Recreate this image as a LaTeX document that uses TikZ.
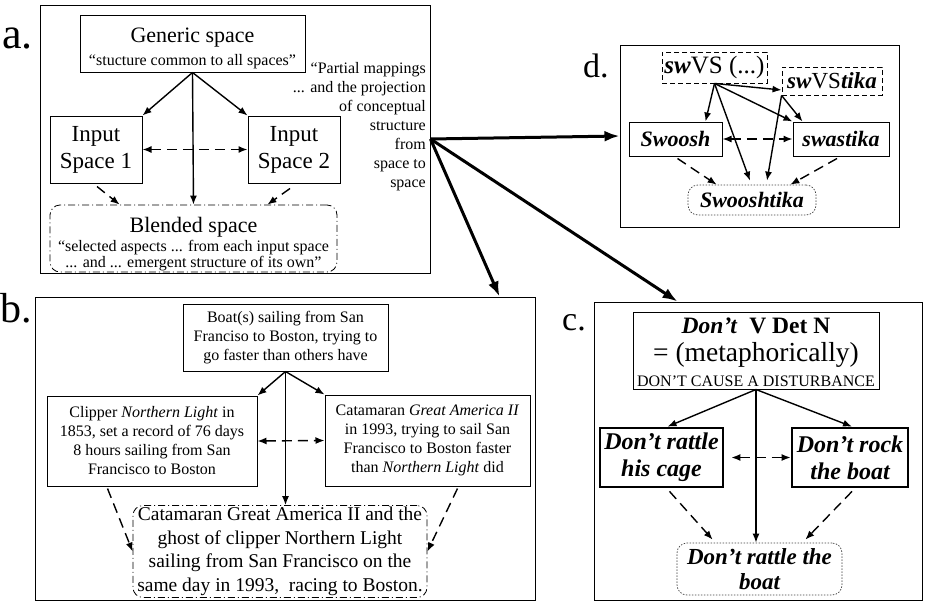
\documentclass[tikz,border=0pt]{standalone}
\usepackage{fontspec}
\setmainfont{Liberation Serif}
\usetikzlibrary{arrows.meta,calc}
\newcommand\fsz[2]{\fontsize{#1}{#2}\selectfont}
\begin{document}
\begin{tikzpicture}[x=1pt,y=-1pt,
  panel/.style={draw, line width=1pt, inner sep=0pt},
  lbl/.style={anchor=base west, inner sep=0pt},
  txt/.style={anchor=base, inner sep=0pt, font=\fsz{#1}{#1}},
  box/.style={draw, line width=1pt, inner sep=0pt, align=center},
  thickbox/.style={box, line width=2.8pt},
  blendbox/.style={box, line width=0.8pt, rounded corners=10pt,
    dash pattern=on 7pt off 3pt on 1pt off 3pt},
  dbox/.style={box, line width=0.9pt, dash pattern=on 5pt off 3pt},
  dotbox/.style={box, line width=0.7pt, draw=black!75, rounded corners=10pt,
    dash pattern=on 1.5pt off 1.5pt},
  bi/.style={font=\fsz{#1}{#1}\bfseries\itshape},
  arr/.style={-{Latex[length=9pt,width=7pt]}, line width=1.4pt},
  dsh/.style={arr, dash pattern=on 10pt off 6pt},
  dbl/.style={{Latex[length=9pt,width=7pt]}-{Latex[length=9pt,width=7pt]},
    line width=1.4pt, dash pattern=on 10pt off 6pt},
  big/.style={-{Latex[length=15pt,width=11pt]}, line width=3pt},
]
\useasboundingbox (0,0) rectangle (926,605);

% ---------- a. conceptual integration network ----------
\node[panel, minimum width=390pt, minimum height=268pt] (pa) at (235,139) {};
\node[lbl, font=\fsz{44}{44}] (la) at (2,48) {a.};
\node[box, minimum width=225pt, minimum height=57pt] (gen) at (192.5,43.5) {};
\node[txt=22] (genA) at (192.5,42) {Generic space};
\node[txt=16] (genB) at (192.5,65) {“stucture common to all spaces”};
\node[box, minimum width=92pt, minimum height=67pt, font=\fsz{23}{27}] (in1) at (96,149.5) {Input\\Space 1};
\node[box, minimum width=92pt, minimum height=67pt, font=\fsz{23}{27}] (in2) at (294,149.5) {Input\\Space 2};
\node[blendbox, minimum width=287pt, minimum height=67pt] (blend) at (193.5,238.5) {};
\node[txt=22] (blendA) at (193.5,232) {Blended space};
\node[txt=16] (blendB) at (193.5,251) {“selected aspects ... from each input space};
\node[txt=16] (blendC) at (193.5,267) {... and ... emergent structure of its own”};
\node[font=\fsz{16}{19}, align=right, anchor=north east, inner sep=0pt] (note) at (426,62)
  {“Partial mappings\\... and the projection\\of conceptual\\structure\\from\\space to\\space};

\draw[arr] (gen.south) -- (in1.north east);
\draw[arr] (gen.south) -- (in2.north west);
\draw[arr] (gen.south) -- (blend.north);
\draw[dbl] (in1.east) -- (in2.west);
\draw[dsh] ($(in1.south)+(1,3)$) -- ($(blend.north west)+(70,0)$);
\draw[dsh] ($(in2.south)+(-4,5)$) -- ($(blend.north east)+(-70,0)$);

% ---------- d. Swooshtika ----------
\node[panel, minimum width=279pt, minimum height=182pt] (pd) at (759.5,136) {};
\node[lbl, font=\fsz{34}{34}] (ld) at (583,77) {d.};
\node[dbox, minimum width=105pt, minimum height=31pt, font=\fsz{25}{27}] (svs) at (714.5,67.5)
  {\textbf{\textit{sw}}VS (...)};
\node[dbox, minimum width=100pt, minimum height=28pt, font=\fsz{23}{25}] (svt) at (832,81)
  {\textbf{\textit{sw}}VS\textbf{\textit{tika}}};
\node[box, minimum width=93pt, minimum height=34pt, bi=22] (swoosh) at (675.5,139) {Swoosh};
\node[box, minimum width=96pt, minimum height=34pt, bi=22] (swas) at (841,139) {swastika};
\node[dotbox, minimum width=128pt, minimum height=30pt, bi=22] (swt) at (752,200) {Swooshtika};

\draw[arr] (svs.south) -- ($(swoosh.north)+(30,0)$);
\draw[arr] (svs.south) -- ($(svt.west)+(0,9)$);
\draw[arr] (svs.south) -- (swas.north west);
\draw[arr] (svs.south) -- ($(swt.north)+(-2,-4)$);
\draw[arr] (svt.south west) -- ($(swas.north west)+(10,0)$);
\draw[arr] (svt.south west) -- ($(swt.north)+(15,-4)$);
\draw[dbl] (swoosh.east) -- (swas.west);
\draw[dsh] ($(swoosh.south)+(2,2)$) -- ($(swt.north west)+(29,0)$);
\draw[dsh] ($(swas.south)+(-4,2)$) -- ($(swt.north east)+(-26,0)$);

% ---------- c. Don't V Det N ----------
\node[panel, minimum width=328pt, minimum height=298pt] (pc) at (758,451) {};
\node[lbl, font=\fsz{34}{34}] (lc) at (562,330) {c.};
\node[box, minimum width=246pt, minimum height=77pt] (ctop) at (756,350.5) {};
\node[txt=23.5] (ctopA) at (756,333) {\textbf{\textit{Don’t}}\ \ \textbf{V Det N}};
\node[txt=27.5] (ctopB) at (756,361) {= (metaphorically)};
\node[txt=16] (ctopC) at (756,386) {DON’T CAUSE A DISTURBANCE};
\node[thickbox, minimum width=123pt, minimum height=59pt, bi=24] (cl) at (661.5,457.5) {Don’t rattle\\[3pt]his cage};
\node[thickbox, minimum width=116pt, minimum height=59pt, bi=24] (cr) at (850,457.5) {Don’t rock\\[3pt]the boat};
\node[dotbox, minimum width=165pt, minimum height=52pt, bi=23] (cb) at (759.5,569) {Don’t rattle the\\[2pt]boat};

\draw[arr] (ctop.south) -- ($(cl.north)+(6,0)$);
\draw[arr] (ctop.south) -- ($(cr.north)+(2,0)$);
\draw[arr] (ctop.south) -- (ctop.south |- cb.north);
\draw[dbl, shorten <=7pt] (cl.east) -- (cr.west);
\draw[dsh] ($(cl.south)+(8,3)$) -- ($(cb.north west)+(36,-3)$);
\draw[dsh] ($(cr.south)+(2,3)$) -- ($(cb.north east)+(-37,-3)$);

% ---------- b. the boat race ----------
\node[panel, minimum width=500pt, minimum height=303pt] (pb) at (285,448.5) {};
\node[lbl, font=\fsz{42}{42}] (lb) at (0,322) {b.};
\node[box, minimum width=205pt, minimum height=67pt, font=\fsz{16}{19}] (btop) at (285.5,337.5)
  {Boat(s) sailing from San\\Franciso to Boston, trying to\\go faster than others have};
\node[box, minimum width=210pt, minimum height=90pt, font=\fsz{16}{19}] (bl) at (152,441)
  {Clipper \textit{Northern Light} in\\1853, set a record of 76 days\\8 hours sailing from San\\Francisco to Boston};
\node[box, minimum width=205pt, minimum height=91pt, font=\fsz{16}{19}] (br) at (427.5,440.5)
  {Catamaran \textit{Great America II}\\in 1993, trying to sail San\\Francisco to Boston faster\\than \textit{Northern Light} did};
\node[blendbox, minimum width=294pt, minimum height=92pt, font=\fsz{19.5}{23.5}] (bb) at (280,551.5)
  {Catamaran Great America II and the\\ghost of clipper Northern Light\\sailing from San Francisco on the\\same day in 1993,\ \ racing to Boston.};

\draw[arr] (btop.south) -- (bl.north east);
\draw[arr] (btop.south) -- (br.north west);
\draw[arr] (btop.south) -- (btop.south |- bb.north);
\draw[dbl] (bl.east) -- (br.west);
\draw[dsh] ($(bl.south west)+(61,2)$) -- (bb.west);
\draw[dsh] ($(br.south west)+(133,2)$) -- (bb.east);

% ---------- projections from the network ----------
\draw[big] (pa.east) -- (pd.west);
\draw[big] (pa.east) -- ($(pb.north west)+(465,0)$);
\draw[big] (pa.east) -- ($(pc.north west)+(84,0)$);
\end{tikzpicture}
\end{document}
